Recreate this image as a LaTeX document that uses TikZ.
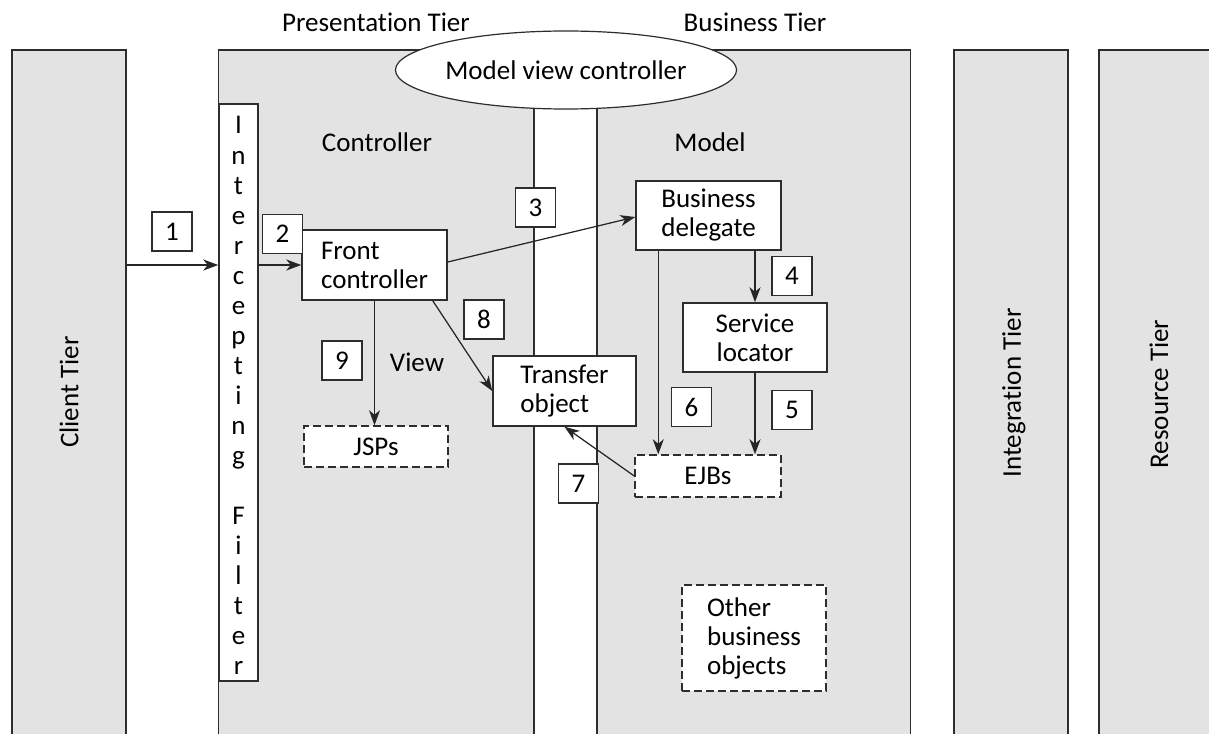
\documentclass[tikz,border=0pt]{standalone}
\usepackage{fontspec}
\setmainfont{Carlito}[Ligatures=NoCommon]
\usetikzlibrary{arrows.meta,shapes.geometric,calc}
\definecolor{tierfill}{RGB}{227,227,227}
\definecolor{edge}{RGB}{45,45,45}
\begin{document}
\begin{tikzpicture}[x=1pt,y=-1pt,
  every node/.style={font=\fontsize{27}{29}\selectfont, text=black},
  tier/.style={draw=edge, line width=1.5pt, fill=tierfill, inner sep=0pt},
  box/.style={draw=edge, line width=1.5pt, fill=white, inner sep=0pt, align=center},
  lbox/.style={box, align=left},
  dbox/.style={box, dash pattern=on 8pt off 4pt},
  numbox/.style={draw=edge, line width=1.5pt, fill=white, minimum width=40pt, minimum height=39pt, inner sep=0pt},
  arr/.style={draw=black!85, line width=1.25pt, -{Stealth[length=15pt,width=11pt,inset=4.5pt]}}
]
\useasboundingbox (0,0) rectangle (1209,733);
\clip (0,0) rectangle (1209,733);
\fill[white] (0,0) rectangle (1209,733);

% tiers
\node[tier, minimum width=114pt, minimum height=730pt] (client) at (69,415) {};
\node[rotate=90] (clientlbl) at (69,392) {Client Tier};
\node[tier, minimum width=692pt, minimum height=730pt] (pb) at (564.5,415) {};
\node[tier, minimum width=114pt, minimum height=730pt] (integ) at (1011,415) {};
\node[rotate=90] (integlbl) at (1014,393) {Integration Tier};
\node[tier, minimum width=120pt, minimum height=730pt] (res) at (1159,415) {};
\node[rotate=90] (reslbl) at (1159,394) {Resource Tier};

% MVC strip and ellipse
\node[draw=edge, line width=1.5pt, fill=white, minimum width=63pt, minimum height=700pt, inner sep=0pt] (strip) at (565.5,440) {};
\node[ellipse, draw=edge, line width=1.2pt, fill=white, minimum width=277pt, minimum height=78pt, inner sep=0pt] (mvc) at (566,70) {Model view controller};

% titles and labels
\node (pt) at (376,22) {Presentation Tier};
\node (bt) at (755,22) {Business Tier};
\node (ctl) at (377,142) {Controller};
\node (mdl) at (710,142) {Model};
\node (view) at (417,362) {View};

% intercepting filter
\node[box, minimum width=39pt, minimum height=577pt] (filter) at (238.5,392.5) {};
\foreach \ch [count=\i] in {I,n,t,e,r,c,e,p,t,i,n,g,{},F,i,l,t,e,r}
  \node[anchor=base, inner sep=0pt] (f\i) at (238.5,{134+30*(\i-1)}) {\ch};

% component boxes
\node[lbox, minimum width=145pt, minimum height=70pt] (fc) at (374.5,265) {Front\\controller};
\node[box, minimum width=145pt, minimum height=69pt] (bd) at (708.5,215.5) {Business\\delegate};
\node[box, minimum width=144pt, minimum height=69pt] (sl) at (755,337.5) {Service\\locator};
\node[lbox, minimum width=143pt, minimum height=70pt] (to) at (564.5,391) {Transfer\\object};
\node[dbox, minimum width=144pt, minimum height=41pt] (jsp) at (376,446.5) {JSPs};
\node[dbox, minimum width=146pt, minimum height=42pt] (ejb) at (708,476) {EJBs};
\node[dbox, align=left, minimum width=144pt, minimum height=106pt] (obo) at (754,638) {Other\\business\\objects};

% arrows
\draw[arr] (client.east |- fc.west) -- (filter.west |- fc.west);
\draw[arr] (filter.east |- fc.west) -- (fc.west);
\draw[arr] ([yshift=3pt]fc.east) -- ([yshift=-1.5pt]bd.west);
\draw[arr] (sl.north |- bd.south) -- (sl.north);
\draw[arr] (sl.south) -- (sl.south |- ejb.north);
\draw[arr] ([xshift=23pt]bd.south west) -- ([xshift=23pt]bd.south west |- ejb.north);
\draw[arr] (ejb.west) -- (to.south);
\draw[arr] ([xshift=-15pt]fc.south east) -- (to.west);
\draw[arr] (fc.south) -- (fc.south |- jsp.north);

% step numbers
\node[numbox] (n1) at (172,231.5) {1};
\node[numbox] (n2) at (282.5,234) {2};
\node[numbox] (n3) at (535.5,207.5) {3};
\node[numbox] (n4) at (792,276) {4};
\node[numbox] (n5) at (792,410) {5};
\node[numbox] (n6) at (691.5,407) {6};
\node[numbox] (n7) at (578.5,483.5) {7};
\node[numbox] (n8) at (484,319.5) {8};
\node[numbox] (n9) at (342,360.5) {9};
\end{tikzpicture}
\end{document}
